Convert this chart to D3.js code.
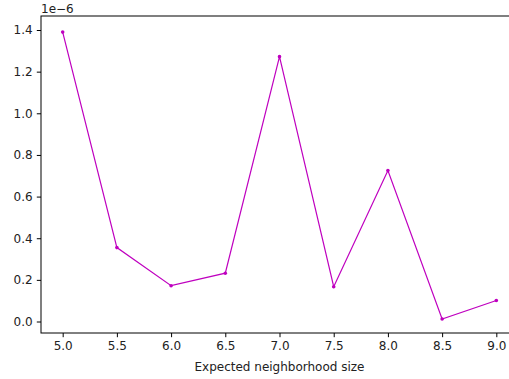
<!DOCTYPE html>
<html>
<head>
<meta charset="utf-8">
<script src="https://cdnjs.cloudflare.com/ajax/libs/d3/7.8.5/d3.min.js"></script>
<style>
	body { margin: 0; background: #fff; }
	svg text { font-family: "DejaVu Sans", sans-serif; fill: #000; }
</style>
</head>
<body>
<svg id="plot" width="509" height="379"></svg>
<script>
	// expected neighborhood size vs value (scale 1e-6)
	var sizes = [5.0, 5.5, 6.0, 6.5, 7.0, 7.5, 8.0, 8.5, 9.0];
	var values = [1.39e-6, 0.355e-6, 0.172e-6, 0.232e-6, 1.272e-6, 0.167e-6, 0.725e-6, 0.012e-6, 0.101e-6];
	var xTicks = [5.0, 5.5, 6.0, 6.5, 7.0, 7.5, 8.0, 8.5, 9.0];
	var yTicks = [0, 0.2e-6, 0.4e-6, 0.6e-6, 0.8e-6, 1.0e-6, 1.2e-6, 1.4e-6];

	var axLeft = 41, axRight = 518, axTop = 16, axBottom = 333;
	var svg = d3.select("#plot");

	var x = d3.scaleLinear().domain([4.8, 9.2]).range([axLeft, axRight]);
	var y = d3.scaleLinear().domain([-0.0552e-6, 1.4673e-6]).range([axBottom, axTop]);

	var xAxis = d3.axisBottom(x).tickValues(xTicks).tickSize(4.2).tickPadding(4.2)
		.tickFormat(d3.format(".1f"));
	var yAxis = d3.axisLeft(y).tickValues(yTicks).tickSize(4.2).tickPadding(4.2)
		.tickFormat(function(d){ return (d * 1e6).toFixed(1); });

	var gx = svg.append("g").attr("transform", "translate(0," + axBottom + ")").call(xAxis);
	var gy = svg.append("g").attr("transform", "translate(" + axLeft + ",0)").call(yAxis);
	[gx, gy].forEach(function(g){
		g.select(".domain").remove();
		g.selectAll(".tick line").style("stroke", "#000").style("stroke-width", 1);
		g.selectAll(".tick text").style("font-size", "12px").style("font-family", "DejaVu Sans")
			.style("fill", "#222");
	});

	// spines
	svg.append("rect")
		.attr("x", axLeft).attr("y", axTop)
		.attr("width", axRight - axLeft).attr("height", axBottom - axTop)
		.style("fill", "none").style("stroke", "#000").style("stroke-width", 1);

	var line = d3.line()
		.x(function(d, i){ return x(sizes[i]); })
		.y(function(d){ return y(d); });

	svg.append("path")
		.datum(values)
		.attr("d", line)
		.style("fill", "none")
		.style("stroke", "#bf00bf")
		.style("stroke-width", 1.2);

	svg.selectAll(".pt").data(values).enter()
		.append("circle")
		.attr("class", "pt")
		.attr("r", 1.8)
		.attr("cx", function(d, i){ return x(sizes[i]); })
		.attr("cy", function(d){ return y(d); })
		.style("fill", "#bf00bf");

	svg.append("text")
		.attr("x", axLeft).attr("y", 13)
		.style("font-size", "12px")
		.style("fill", "#222")
		.text("1e\u22126");

	svg.append("text")
		.attr("x", (axLeft + axRight) / 2).attr("y", 371)
		.attr("text-anchor", "middle")
		.style("font-size", "12px")
		.style("fill", "#222")
		.text("Expected neighborhood size");
</script>
</body>
</html>
